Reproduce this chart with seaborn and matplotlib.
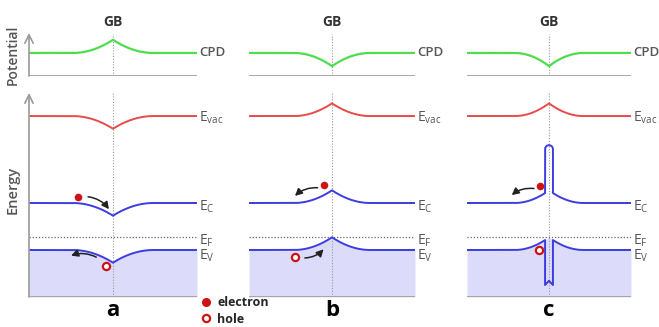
import numpy as np
import pandas as pd
import matplotlib
matplotlib.use("Agg")
import matplotlib.pyplot as plt
from matplotlib.lines import Line2D
import seaborn as sns

sns.set_theme(style="white")
plt.rcParams['font.family'] = ['Open Sans', 'DejaVu Sans']

# ---------------- data ----------------
panels = ["a", "b", "c"]
band_bend_sign = [-1, 1, 1]      # direction of band bending at GB
cpd_bend_sign = [1, -1, -1]      # direction of CPD bending at GB
bend_width = [0.48, 0.46, 0.42]  # half-width of the bending region
has_barrier = [False, False, True]

E_vac = 3.85
E_C = 2.0
E_F = 1.28
E_V = 1.0
bend_amp = 0.27
cpd_level = 0.49
cpd_amp = 0.28
barrier_top = 3.23      # conduction band spike (panel c)
barrier_bottom = 0.255  # valence band spike (panel c)
barrier_half = 0.048

# carriers: (x, y) per panel
electron_pos = [(-0.42, 2.13), (-0.10, 2.38), (-0.11, 2.36)]
hole_pos = [(-0.085, 0.66), (-0.45, 0.85), (-0.12, 1.00)]
# arrows: (tail, head)
electron_arrow = [((-0.33, 2.14), (-0.03, 1.82)),
                  ((-0.14, 2.32), (-0.47, 2.11)),
                  ((-0.15, 2.30), (-0.48, 2.13))]
hole_arrow = [((-0.17, 0.82), (-0.53, 0.86)),
              ((-0.36, 0.83), (-0.08, 1.06)),
              None]

level_labels = ["E$_\\mathregular{vac}$", "E$_\\mathregular{C}$",
                "E$_\\mathregular{F}$", "E$_\\mathregular{V}$"]

# ---------------- styles / layout ----------------
W, H = 659, 327
x_pix = [(29, 197), (249, 415), (467, 631)]
pot_pix = (33, 76)
en_pix = (93, 297)
px_per_unit = 47.0

C_GREEN = "#4fdc4f"
C_RED = "#e84a4a"
C_BLUE = "#3c3ce0"
C_FILL = "#dcdcfa"
C_AX = "#9a9a9a"
C_TXT = "#555555"
C_CAR = "#cc1414"

fig = plt.figure(figsize=(W / 100, H / 100), dpi=100)


def make_ax(xp, yp):
    l = xp[0] / W
    w = (xp[1] - xp[0]) / W
    b = 1 - yp[1] / H
    h = (yp[1] - yp[0]) / H
    ax = fig.add_axes([l, b, w, h])
    ax.set_xlim(-1, 1)
    ax.set_ylim(0, (yp[1] - yp[0]) / px_per_unit)
    ax.axis("off")
    return ax


def bend(x, base, amp, w):
    d = np.clip(1 - np.abs(x) / w, 0, None)
    return base + amp * d ** 2


x = np.linspace(-1, 1, 801)

for i, p in enumerate(panels):
    ax_p = make_ax(x_pix[i], pot_pix)
    ax_e = make_ax(x_pix[i], en_pix)
    w = bend_width[i]
    s = band_bend_sign[i]

    # ---- potential panel ----
    ax_p.axvline(0, color=C_AX, lw=0.8, ls=(0, (1, 1.5)), ymax=0.97)
    ax_p.axhline(0, color=C_AX, lw=1.2)
    cpd = bend(x, cpd_level, cpd_bend_sign[i] * cpd_amp, w)
    sns.lineplot(x=x, y=cpd, ax=ax_p, color=C_GREEN, lw=1.6)
    ax_p.annotate("CPD", xy=(1, cpd_level), xytext=(1.5, 0), textcoords="offset points",
                  ha="left", va="center", fontsize=9.5, color=C_TXT, fontweight="semibold",
                  annotation_clip=False)
    ax_p.text(0, 1.25, "GB", transform=ax_p.get_xaxis_transform(), ha="center", va="center",
              fontsize=10, fontweight="bold", color="#333333")

    # ---- energy panel ----
    ev = bend(x, E_V, s * bend_amp, w)
    ax_e.fill_between(x, 0, ev, color=C_FILL, lw=0)
    ax_e.axvline(0, color=C_AX, lw=0.8, ls=(0, (1, 1.5)))
    ax_e.axhline(0, color=C_AX, lw=1.2)
    ax_e.axhline(E_F, color="#666666", lw=0.9, ls=(0, (1, 1.5)))

    evac = bend(x, E_vac, s * bend_amp, w)
    sns.lineplot(x=x, y=evac, ax=ax_e, color=C_RED, lw=1.4)

    ec = bend(x, E_C, s * bend_amp, w)
    if has_barrier[i]:
        h = barrier_half
        left = x < -h
        right = x > h
        ec_l = bend(-h, E_C, s * bend_amp, w)
        ev_l = bend(-h, E_V, s * bend_amp, w)
        r = 0.085
        t = np.linspace(np.pi, 0, 30)
        cx = np.concatenate([x[left], [-h], h * np.cos(t), [h], x[right]])
        cy = np.concatenate([ec[left], [ec_l], barrier_top - r + r * np.sin(t), [ec_l], ec[right]])
        vx = np.concatenate([x[left], [-h, -h, 0, h, h], x[right]])
        vy = np.concatenate([ev[left], [ev_l, barrier_bottom, barrier_bottom + 0.09, barrier_bottom, ev_l], ev[right]])
    else:
        cx, cy, vx, vy = x, ec, x, ev
    sns.lineplot(x=cx, y=cy, ax=ax_e, color=C_BLUE, lw=1.4, sort=False, estimator=None)
    sns.lineplot(x=vx, y=vy, ax=ax_e, color=C_BLUE, lw=1.4, sort=False, estimator=None)

    # level labels
    for lab, lev, dy in zip(level_labels, [E_vac, E_C, E_F, E_V], [-1, -3, -3, -4.5]):
        ax_e.annotate(lab, xy=(1, lev), xytext=(1.5, dy), textcoords="offset points",
                      ha="left", va="center", fontsize=10, color=C_TXT,
                      annotation_clip=False)

    # carriers
    sns.scatterplot(x=[electron_pos[i][0]], y=[electron_pos[i][1]], ax=ax_e,
                    color=C_CAR, s=30, edgecolor=C_CAR, linewidth=0, zorder=5)
    ax_e.plot([hole_pos[i][0]], [hole_pos[i][1]], marker="o", ms=5.2, mfc="white",
              mec=C_CAR, mew=1.6, zorder=5, ls="none")
    for k, arr in enumerate([electron_arrow[i], hole_arrow[i]]):
        if arr is None:
            continue
        (tx, ty), (hx, hy) = arr
        if k == 0:
            rad = -0.25 if hx > tx else 0.25
        else:
            rad = 0.25
        ax_e.annotate("", xy=(hx, hy), xytext=(tx, ty),
                      arrowprops=dict(arrowstyle="-|>,head_length=0.35,head_width=0.18",
                                      color="#222222", lw=1.1,
                                      connectionstyle=f"arc3,rad={rad}"))

    ax_e.text(0, -(311 - 297) / px_per_unit, p, ha="center", va="center",
              fontsize=16, fontweight="bold", color="black")

    if i == 0:
        for ax in (ax_p, ax_e):
            ax.annotate("", xy=(-1, 1.0), xytext=(-1, 0), xycoords=("data", "axes fraction"),
                        textcoords=("data", "axes fraction"),
                        arrowprops=dict(arrowstyle="->,head_length=0.5,head_width=0.25",
                                        color=C_AX, lw=1.2, shrinkA=0, shrinkB=0))
        ax_p.text(-1.19, 0.45, "Potential",
                  rotation=90, ha="center", va="center", fontsize=10,
                  fontweight="semibold", color=C_TXT)
        ax_e.text(-1.19, (297 - 190) / px_per_unit, "Energy", rotation=90, ha="center", va="center",
                  fontsize=10.5, fontweight="semibold", color=C_TXT)

# legend
handles = [Line2D([], [], marker="o", ls="none", color=C_CAR, ms=5.5),
           Line2D([], [], marker="o", ls="none", mfc="white", mec=C_CAR, mew=1.6, ms=5.2)]
fig.legend(handles, ["electron", "hole"], loc="upper left",
           bbox_to_anchor=(201 / W, 1 - 296 / H), frameon=False,
           prop=dict(size=9, weight="bold"), handlelength=0.8, handletextpad=0.5,
           labelspacing=0.3, borderpad=0, borderaxespad=0)

fig.savefig("out.png", dpi=100)
